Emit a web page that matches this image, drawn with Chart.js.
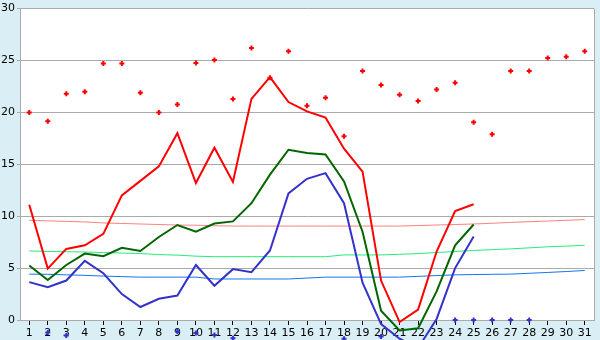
<!DOCTYPE html>
<html lang="en">
<head>
    <meta charset="UTF-8">
    <title>Temperature chart</title>
    <script src="https://cdn.jsdelivr.net/npm/chart.js"></script>
    <style>
        * {
            margin: 0;
            padding: 0;
            box-sizing: border-box;
        }

        body {
            background: #d9eff5;
            width: 600px;
            height: 340px;
            overflow: hidden;
        }
    </style>
</head>
<body>
    <canvas id="tempChart" width="600" height="340"></canvas>

    <script>
        // Days of the month
        const days = ['1', '2', '3', '4', '5', '6', '7', '8', '9', '10', '11', '12', '13', '14', '15', '16',
            '17', '18', '19', '20', '21', '22', '23', '24', '25', '26', '27', '28', '29', '30', '31'];

        // Daily series
        const maxTemps = [11.1, 4.95, 6.85, 7.2, 8.3, 12.0, 13.4, 14.8, 18.0, 13.2, 16.6, 13.3, 21.3, 23.4, 21.0, 20.1,
            19.5, 16.5, 14.3, 3.8, -0.2, 1.0, 6.6, 10.5, 11.15, null, null, null, null, null, null];
        const meanTemps = [5.25, 3.85, 5.3, 6.4, 6.15, 6.95, 6.65, 8.0, 9.15, 8.5, 9.3, 9.5, 11.25, 14.0, 16.4, 16.1,
            15.95, 13.35, 8.5, 0.9, -1.0, -0.8, 2.75, 7.2, 9.2, null, null, null, null, null, null];
        const minTemps = [3.65, 3.15, 3.8, 5.7, 4.5, 2.5, 1.25, 2.05, 2.35, 5.3, 3.3, 4.9, 4.6, 6.7, 12.2, 13.6,
            14.15, 11.25, 3.6, -0.4, -1.8, -2.7, 0.1, 5.0, 8.05, null, null, null, null, null, null];

        // Extremes
        const recordMax = [20.0, 19.15, 21.8, 22.0, 24.7, 24.7, 21.9, 20.0, 20.75, 24.75, 25.05, 21.3, 26.2, 23.35, 25.9, 20.65,
            21.4, 17.7, 24.0, 22.65, 21.7, 21.1, 22.2, 22.85, 19.05, 17.9, 24.0, 24.0, 25.25, 25.35, 25.9];
        const groundMin = [null, -1.2, -1.5, null, null, null, null, null, -1.1, -1.25, -1.45, -1.75, null, null, null, null,
            null, -1.8, null, -1.6, null, null, null, 0, 0, 0, 0, 0, null, null, null];

        // Long term normals
        const normalMax = [9.6, 9.55, 9.5, 9.45, 9.35, 9.3, 9.25, 9.2, 9.15, 9.13, 9.08, 9.05, 9.05, 9.05, 9.05, 9.05,
            9.05, 9.05, 9.05, 9.05, 9.05, 9.1, 9.15, 9.2, 9.25, 9.32, 9.4, 9.47, 9.53, 9.6, 9.68];
        const normalMean = [6.65, 6.6, 6.58, 6.55, 6.5, 6.45, 6.4, 6.3, 6.25, 6.15, 6.1, 6.1, 6.1, 6.1, 6.1, 6.1,
            6.1, 6.27, 6.27, 6.27, 6.33, 6.4, 6.5, 6.6, 6.7, 6.78, 6.85, 6.95, 7.05, 7.12, 7.2];
        const normalMin = [4.42, 4.4, 4.35, 4.3, 4.23, 4.18, 4.13, 4.13, 4.13, 4.13, 3.95, 3.95, 3.95, 3.95, 3.95, 4.04,
            4.13, 4.13, 4.13, 4.13, 4.13, 4.2, 4.28, 4.35, 4.38, 4.4, 4.42, 4.5, 4.58, 4.67, 4.77];

        const yTicks = [0, 5, 10, 15, 20, 25, 30];

        // White plot area with a grey frame
        const plotBackground = {
            id: 'plotBackground',
            beforeDraw(chart) {
                const { ctx, chartArea: a } = chart;
                ctx.save();
                ctx.fillStyle = '#ffffff';
                ctx.fillRect(a.left, a.top, a.right - a.left, a.bottom - a.top);
                ctx.restore();
            },
            afterDraw(chart) {
                const { ctx, chartArea: a } = chart;
                ctx.save();
                ctx.strokeStyle = '#aaaaaa';
                ctx.lineWidth = 1;
                ctx.beginPath();
                ctx.moveTo(a.right + 0.5, a.top);
                ctx.lineTo(a.right + 0.5, a.bottom);
                ctx.stroke();
                ctx.restore();
            }
        };

        // Chart.js skips points outside the chart area, so draw the ground marks by hand
        const groundMarks = {
            id: 'groundMarks',
            afterDatasetsDraw(chart) {
                const ctx = chart.ctx;
                const meta = chart.getDatasetMeta(1);
                ctx.save();
                ctx.strokeStyle = '#3333cc';
                ctx.fillStyle = '#3333cc';
                ctx.lineWidth = 2;
                meta.data.forEach((pt, i) => {
                    if (groundMin[i] === null) return;
                    Chart.helpers.drawPoint(ctx, {
                        pointStyle: 'cross',
                        radius: 2.5,
                        rotation: 0,
                        borderWidth: 2
                    }, pt.x, pt.y);
                });
                ctx.restore();
            }
        };

        function lineSet(data, color, width, order) {
            return {
                data: data,
                borderColor: color,
                backgroundColor: color,
                borderWidth: width,
                pointRadius: 0,
                tension: 0,
                spanGaps: false,
                clip: false,
                order: order
            };
        }

        function markSet(data, color, size) {
            return {
                data: data,
                showLine: false,
                pointStyle: 'cross',
                pointRadius: size,
                pointBorderWidth: 2,
                borderColor: color,
                backgroundColor: color,
                clip: false,
                order: 0
            };
        }

        const ctx = document.getElementById('tempChart').getContext('2d');
        new Chart(ctx, {
            type: 'line',
            data: {
                labels: days,
                datasets: [
                    markSet(recordMax, '#ff0000', 2.5),
                    markSet(groundMin, '#3333cc', 0),
                    lineSet(maxTemps, '#ff0000', 2, 1),
                    lineSet(meanTemps, '#006600', 2, 1),
                    lineSet(minTemps, '#3333cc', 2, 1),
                    lineSet(normalMax, '#ff8080', 1, 2),
                    lineSet(normalMean, '#22ee77', 1, 2),
                    lineSet(normalMin, '#1177ee', 1, 2)
                ]
            },
            options: {
                responsive: false,
                animation: false,
                layout: {
                    padding: { top: 5, right: 5, left: 0, bottom: 0 }
                },
                plugins: {
                    legend: { display: false },
                    tooltip: { enabled: false }
                },
                scales: {
                    x: {
                        offset: true,
                        grid: {
                            drawOnChartArea: false,
                            tickLength: 5,
                            tickColor: '#000000',
                            offset: false
                        },
                        border: { color: '#aaaaaa' },
                        ticks: {
                            color: '#000000',
                            padding: 2,
                            maxRotation: 0,
                            autoSkip: false,
                            font: { family: 'DejaVu Sans', size: 11 }
                        },
                        afterFit(scale) {
                            scale.height = 20;
                        }
                    },
                    y: {
                        min: 0,
                        max: 30,
                        afterBuildTicks(scale) {
                            scale.ticks = yTicks.map(v => ({ value: v }));
                        },
                        grid: {
                            color: '#aaaaaa',
                            tickLength: 3,
                            tickColor: '#aaaaaa'
                        },
                        border: { color: '#aaaaaa' },
                        ticks: {
                            color: '#000000',
                            padding: 2,
                            font: { family: 'DejaVu Sans', size: 11 }
                        },
                        afterFit(scale) {
                            scale.width = 20;
                        }
                    }
                }
            },
            plugins: [plotBackground, groundMarks]
        });
    </script>
</body>
</html>
